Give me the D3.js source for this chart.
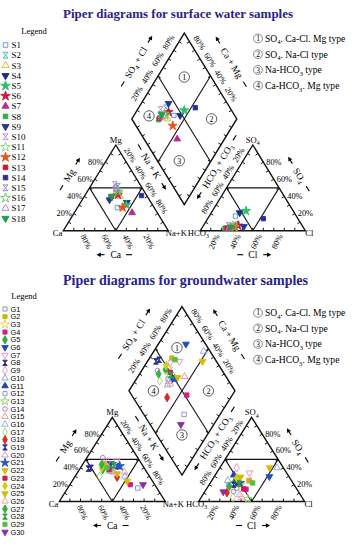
<!DOCTYPE html>
<html>
<head>
<meta charset="utf-8">
<script src="https://cdn.jsdelivr.net/npm/d3@7/dist/d3.min.js"></script>
<style>
  body { margin: 0; background: #fff; }
  svg { display: block; }
</style>
</head>
<body>
<div id="chart"></div>
<script>
// surface water: cation % (Mg, Na+K) and anion % (SO4, Cl); Ca and HCO3 are the rest
const surfaceIds = ["S1","S2","S3","S4","S5","S6","S7","S8","S9","S10","S11","S12","S13","S14","S15","S16","S17","S18"];
const surfaceMg  = [27, 52, 40, 33, 30, 42, 21, 38, 36, 54, 47, 27, 40, 41, 50, 45, 48, 40];
const surfaceNaK = [38, 26, 34, 44, 45, 31, 55, 26, 26, 22, 28, 43, 26, 54, 25, 30, 27, 26];
const surfaceSO4 = [17,  7,  4, 21, 23,  6,  4,  3,  5,  5,  6,  4,  3, 14,  6,  4,  3,  4];
const surfaceCl  = [25, 32, 30, 27, 32, 33, 27.5, 22, 39, 28, 28, 31, 24, 53, 24, 30, 26, 27];

// groundwater
const groundIds = ["G1","G2","G3","G4","G5","G6","G7","G8","G9","G10","G11","G12","G13","G14","G15",
                   "G16","G17","G18","G19","G20","G21","G22","G23","G24","G25","G26","G27","G28","G29","G30"];
const groundMg  = [36, 45, 42, 20, 38, 45, 48, 39, 47, 42, 41, 16, 38, 52, 35, 30, 30, 29, 40, 36, 42, 24, 38, 40, 33, 34, 44, 43, 40, 20];
const groundNaK = [30, 21, 24, 57, 22, 26, 30,  8, 22, 33, 35, 66, 28, 15, 44, 47, 23, 40, 10, 32, 36, 52, 28, 20, 38, 35, 18, 30, 25, 69];
const groundSO4 = [16, 25, 20, 14.5, 25, 29.5, 34, 20, 40, 25, 31.5, 19, 3, 12, 24, 40, 5, 10.5, 22, 8, 22, 40, 15, 28, 29, 5, 18, 21, 22, 11.5];
const groundCl  = [28, 35, 30, 37.5, 22, 52, 31, 23, 16, 15, 17.5, 19, 45, 27, 37, 54, 30, 21.5, 25, 35, 28, 47, 35, 22, 25, 38, 20, 28, 40, 17.5];

const percentLabels = [20, 40, 60, 80];
const typeNumbers = ["1", "2", "3", "4"];
const typeNames = ["SO_4. Ca-Cl. Mg type", "SO_4. Na-Cl type", "Na-HCO_3 type", "Ca-HCO_3. Mg type"];

// marker styles
const surfaceShapes = ["square","hourglass","triangle","triDown","star","star","triangle","square","triDown",
                       "hourglass","star","star","square","square","hourglass","star","triangle","triDown"];
const surfaceColors = ["#5b8fd6","#35b5a5","#e6b422","#1d2b8a","#2bbf6a","#d4143c","#b52a9c","#2fae3e","#22369c",
                       "#c77fc4","#86d46a","#e8521c","#d3122b","#2b2f94","#9d73c6","#5cc35a","#b77ed0","#1f9e47"];
const surfaceFilled = [0,0,0,1,1,1,1,1,1,0,0,1,1,1,0,0,0,1];

const groundShapes = ["square","square","star","square","diamond","triDown","triDown","hourglass","diamond","triangle",
                      "triangle","square","star","circle","triangle","triangle","diamond","diamond","hourglass","triangle",
                      "star","triDown","square","diamond","triDown","triangle","diamond","hourglass","square","triDown"];
const groundColors = ["#6f8fd4","#c9b800","#e9cf3c","#cf1f86","#2fae34","#1f4fb0","#e58acb","#2a2f82","#e58acb","#7fa2e0",
                      "#2244a8","#8c86d6","#86d46a","#b268c4","#f08a8a","#86a8e6","#98d46e","#e1261c","#2a2f82","#d68ad8",
                      "#2456c4","#d6be00","#d4145a","#c6d21e","#d2bd00","#f29a9a","#35b23a","#2ea136","#52c236","#8a2fa6"];
const groundFilled = [0,1,0,1,1,1,0,1,0,0,1,0,0,0,0,0,0,1,1,0,1,1,1,1,1,0,1,1,1,1];

const serif = "'Liberation Serif','Times New Roman',Times,serif";
const sans = "'Liberation Sans',Arial,Helvetica,sans-serif";

const svg = d3.select("#chart").append("svg")
  .attr("width", 355).attr("height", 550)
  .style("font-family", serif);

const symbolPaths = {
  square: d3.symbol(d3.symbolSquare, 19)(),
  triangle: d3.symbol(d3.symbolTriangle, 20)(),
  triDown: d3.symbol(d3.symbolTriangle, 20)(),
  star: d3.symbol(d3.symbolStar, 26)(),
  diamond: d3.symbol(d3.symbolDiamond, 22)(),
  circle: d3.symbol(d3.symbolCircle, 18)(),
  hourglass: "M-2.4,-2.8H2.4L-2.4,2.8H2.4Z"
};

// text with "_4" style subscripts
function rich(text, str, fs) {
  let shifted = false;
  str.split(/_(\d)/).forEach((p, i) => {
    if (!p) return;
    const ts = text.append("tspan").text(p);
    if (i % 2) { ts.attr("font-size", fs * 0.68).attr("dy", fs * 0.28); shifted = true; }
    else if (shifted) { ts.attr("dy", -fs * 0.28); shifted = false; }
  });
  return text;
}

function marker(sel, shape, color, fill, x, y, k) {
  sel.append("path")
    .attr("d", symbolPaths[shape])
    .attr("transform", `translate(${x},${y}) scale(${k})` + (shape === "triDown" ? " rotate(180)" : ""))
    .attr("fill", fill ? color : "none")
    .attr("stroke", color)
    .attr("stroke-width", 0.9 / k);
}

function drawPiper(cfg, ids, mg, nak, so4, cl, shapes, colors, filled) {
  const g = svg.append("g");
  const px = d3.scaleLinear().domain([0, 100]).range([0, cfg.side]);
  const py = d3.scaleLinear().domain([0, 100]).range([0, cfg.height]);
  const xR = cfg.x0 + cfg.side + cfg.gap;
  const bx = cfg.x0 + cfg.side + cfg.gap / 2;
  const by = cfg.base - cfg.height * cfg.gap / cfg.side;
  const cat = (na, m) => [cfg.x0 + px(na) + px(m) / 2, cfg.base - py(m)];
  const ani = (c, s) => [xR + px(c) + px(s) / 2, cfg.base - py(s)];
  const dia = (a, c) => [bx + (px(a) - px(c)) / 2, by - py(a) - py(c)];

  const line = d3.line();
  const stroke = (sel, w) => sel.attr("fill", "none").attr("stroke", "#111").attr("stroke-width", w);
  const poly = (pts, w) => stroke(g.append("path").attr("d", line(pts) + "Z"), w);
  const seg = (p, q, w) => stroke(g.append("path").attr("d", line([p, q])), w);

  const Ca = cat(0, 0), NaK = cat(100, 0), MgV = cat(0, 100);
  const HC = ani(0, 0), ClV = ani(100, 0), SO = ani(0, 100);
  const B = dia(0, 0), R = dia(100, 0), L = dia(0, 100), T = dia(100, 100);
  const cL = cat(33.3, 33.3), cR = ani(33.3, 33.3), cD = dia(50, 50);

  // inner division lines
  [[cat(0, 50), cat(50, 50)], [cat(0, 50), cat(50, 0)], [cat(50, 50), cat(50, 0)],
   [ani(0, 50), ani(50, 50)], [ani(0, 50), ani(50, 0)], [ani(50, 50), ani(50, 0)],
   [dia(50, 0), dia(50, 100)], [dia(0, 50), dia(100, 50)]].forEach(p => seg(p[0], p[1], 1.1));
  poly([Ca, NaK, MgV], 1.4);
  poly([HC, ClV, SO], 1.4);
  poly([B, R, T, L], 1.4);

  // 10% ticks on every edge
  function tickEdge(p, q, inside) {
    d3.range(10, 100, 10).forEach(v => {
      const t = v / 100;
      const x = p[0] + (q[0] - p[0]) * t, y = p[1] + (q[1] - p[1]) * t;
      let nx = -(q[1] - p[1]), ny = q[0] - p[0];
      const n = Math.hypot(nx, ny); nx /= n; ny /= n;
      if ((inside[0] - x) * nx + (inside[1] - y) * ny < 0) { nx = -nx; ny = -ny; }
      seg([x, y], [x + nx * 3, y + ny * 3], 1);
    });
  }
  [[Ca, NaK, cL], [Ca, MgV, cL], [MgV, NaK, cL], [HC, ClV, cR], [HC, SO, cR], [SO, ClV, cR],
   [B, R, cD], [R, T, cD], [T, L, cD], [L, B, cD]].forEach(e => tickEdge(e[0], e[1], e[2]));

  const pfs = 8.3;
  function pct(x, y, ang, anchor, v) {
    g.append("text")
      .attr("transform", `translate(${x},${y}) rotate(${ang})`)
      .attr("y", pfs * 0.35)
      .attr("text-anchor", anchor)
      .attr("font-size", pfs)
      .text(v + "%");
  }
  // unit vectors along an edge and away from a reference point
  function frame(p, q, ref) {
    const dx = q[0] - p[0], dy = q[1] - p[1], len = Math.hypot(dx, dy);
    const ux = dx / len, uy = dy / len;
    let nx = uy, ny = -ux;
    const mx = (p[0] + q[0]) / 2, my = (p[1] + q[1]) / 2;
    if ((ref[0] - mx) * nx + (ref[1] - my) * ny > 0) { nx = -nx; ny = -ny; }
    return { ux, uy, nx, ny, ang: Math.atan2(uy, ux) * 180 / Math.PI, mx, my };
  }

  percentLabels.forEach(v => {
    let p = cat(0, v);
    pct(p[0] - 2, p[1] - 0.5, 0, "end", v);                      // Mg
    p = cat(100 - v, 0);
    pct(p[0] - 1.5, cfg.base + 4, 64, "start", v);              // Ca
    p = ani(v, 0);
    pct(p[0] - 4, cfg.base + 4, -64, "end", v);                 // Cl
    p = ani(100 - v, v);
    pct(p[0] + 3, p[1] - 0.5, 0, "start", v);                   // SO4
    let f = frame(MgV, NaK, cL); p = cat(v, 100 - v);           // Na+K
    pct(p[0] + f.nx * 7 - f.ux * 4, p[1] + f.ny * 7 - f.uy * 4, f.ang, "middle", v);
    f = frame(HC, SO, cR); p = ani(0, 100 - v);                 // HCO3 + CO3
    pct(p[0] + f.nx * 7 + f.ux * 4, p[1] + f.ny * 7 + f.uy * 4, f.ang, "middle", v);
    f = frame(L, T, cD); p = dia(v, 100);                       // SO4 + Cl
    pct(p[0] + f.nx * 9 + f.ux * 4, p[1] + f.ny * 9 + f.uy * 4, f.ang, "middle", v);
    f = frame(T, R, cD); p = dia(100, v);                       // Ca + Mg
    pct(p[0] + f.nx * 8 - f.ux * 4, p[1] + f.ny * 8 - f.uy * 4, f.ang, "middle", v);
  });

  // axis names with a dash on one side and an arrow on the other
  const nfs = 9.5;
  function axisName(p, q, ref, off, label, side, shift) {
    const f = frame(p, q, ref);
    const cx = f.mx + f.nx * off + f.ux * shift, cy = f.my + f.ny * off + f.uy * shift;
    const grp = g.append("g").attr("transform", `translate(${cx},${cy}) rotate(${f.ang})`);
    const t = rich(grp.append("text").attr("text-anchor", "middle").attr("y", nfs * 0.35)
      .attr("font-size", nfs), label, nfs);
    const hw = t.node().getComputedTextLength() / 2;
    const a0 = side * (hw + 6), a1 = side * (hw + 14);
    grp.append("line").attr("x1", a0).attr("x2", a1 - side * 2).attr("stroke", "#000").attr("stroke-width", 1.1);
    grp.append("path").attr("d", `M${a1},0L${a1 - side * 4.2},-2.2L${a1 - side * 4.2},2.2Z`).attr("fill", "#000");
    grp.append("line").attr("x1", -side * (hw + 5)).attr("x2", -side * (hw + 11))
      .attr("stroke", "#000").attr("stroke-width", 1.1);
  }
  axisName(Ca, MgV, cL, 24, "Mg", 1, 0);
  axisName(Ca, NaK, cL, 24, "Ca", -1, 0);
  axisName(HC, ClV, cR, 24, "Cl", 1, 0);
  axisName(SO, ClV, cR, 24, "SO_4", -1, 0);
  axisName(L, T, cD, 26, "SO_4 + Cl", 1, 0);
  axisName(T, R, cD, 25, "Ca + Mg", -1, 0);
  axisName(L, B, cD, 8, "Na + K", 1, 0);
  axisName(B, R, cD, 8, "HCO_3 + CO_3", -1, 0);

  // corner names
  const vfs = 8.6;
  const corner = (x, y, anchor, label) =>
    rich(g.append("text").attr("x", x).attr("y", y).attr("text-anchor", anchor).attr("font-size", vfs), label, vfs);
  corner(MgV[0], MgV[1] - 2, "middle", "Mg");
  corner(SO[0], SO[1] - 2, "middle", "SO_4");
  corner(Ca[0] - 1, cfg.base + 5, "end", "Ca");
  corner(NaK[0] - 2.5, cfg.base + 5, "start", "Na+K");
  corner(HC[0] + 8.5, cfg.base + 5, "end", "HCO_3");
  corner(ClV[0], cfg.base + 5, "start", "Cl");

  // circled quadrant numbers
  [[75, 75], [75, 25], [25, 25], [25, 75]].forEach((q, i) => {
    const p = dia(q[0], q[1]);
    const o = cfg.quadShift[i];
    g.append("circle").attr("cx", p[0] + o[0]).attr("cy", p[1] + o[1]).attr("r", 5.2)
      .attr("fill", "#fff").attr("stroke", "#333").attr("stroke-width", 0.8);
    g.append("text").attr("x", p[0] + o[0]).attr("y", p[1] + o[1] + 2.8).attr("text-anchor", "middle")
      .attr("font-size", 8).text(typeNumbers[i]);
  });

  // samples in all three fields
  const pts = g.append("g");
  ids.forEach((id, i) => {
    const spots = [cat(nak[i], mg[i]), ani(cl[i], so4[i]), dia(so4[i] + cl[i], 100 - nak[i])];
    spots.forEach(p => marker(pts, shapes[i], colors[i], filled[i], p[0], p[1], 1));
  });

  // title
  svg.append("text").attr("x", cfg.titleX).attr("y", cfg.titleY).attr("text-anchor", "middle")
    .attr("font-size", cfg.titleSize).attr("font-weight", "bold").attr("fill", "#27248a")
    .attr("textLength", cfg.titleLen).attr("lengthAdjust", "spacingAndGlyphs")
    .text(cfg.title);

  // sample legend
  const lg = svg.append("g");
  lg.append("text").attr("x", cfg.legendX).attr("y", cfg.legendY).attr("text-anchor", "middle")
    .attr("font-size", 8.5).text("Legend");
  ids.forEach((id, i) => {
    const y = cfg.itemY + i * cfg.itemStep;
    marker(lg, shapes[i], colors[i], filled[i], cfg.markX, y, cfg.markK);
    lg.append("text").attr("x", cfg.textX).attr("y", y + cfg.itemFs * 0.36)
      .attr("font-size", cfg.itemFs).style("font-family", cfg.itemFont).text(id);
  });

  // water type legend
  typeNames.forEach((name, i) => {
    const y = cfg.typeY + i * cfg.typeStep;
    svg.append("circle").attr("cx", 258).attr("cy", y).attr("r", 4.4)
      .attr("fill", "none").attr("stroke", "#555").attr("stroke-width", 0.7);
    svg.append("text").attr("x", 258).attr("y", y + 2.6).attr("text-anchor", "middle")
      .attr("font-size", 7.5).text(typeNumbers[i]);
    rich(svg.append("text").attr("x", 265).attr("y", y + 3.3).attr("font-size", 9.6), name, 9.6);
  });
}

drawPiper({
  x0: 63.3, base: 230.7, side: 105, height: 85.7, gap: 32,
  quadShift: [[0, 1], [1, 0], [-5, -1], [-9, -3]],
  title: "Piper diagrams for surface water samples", titleX: 178, titleY: 17.5, titleSize: 13.5, titleLen: 230,
  legendX: 34, legendY: 34, itemY: 45, itemStep: 10.2, markX: 5.5, markK: 1.05, textX: 11.5,
  itemFs: 9, itemFont: serif,
  typeY: 38.5, typeStep: 15.7
}, surfaceIds, surfaceMg, surfaceNaK, surfaceSO4, surfaceCl, surfaceShapes, surfaceColors, surfaceFilled);

drawPiper({
  x0: 59.3, base: 501.5, side: 106, height: 84.2, gap: 33.3,
  quadShift: [[-5, -1], [0, 0], [0, 2], [-2, 0]],
  title: "Piper diagrams for groundwater samples", titleX: 185.5, titleY: 285, titleSize: 14, titleLen: 245,
  legendX: 24, legendY: 299, itemY: 309, itemStep: 7.69, markX: 5, markK: 0.95, textX: 10.5,
  itemFs: 7.4, itemFont: sans,
  typeY: 312.8, typeStep: 15.6
}, groundIds, groundMg, groundNaK, groundSO4, groundCl, groundShapes, groundColors, groundFilled);
</script>
</body>
</html>
